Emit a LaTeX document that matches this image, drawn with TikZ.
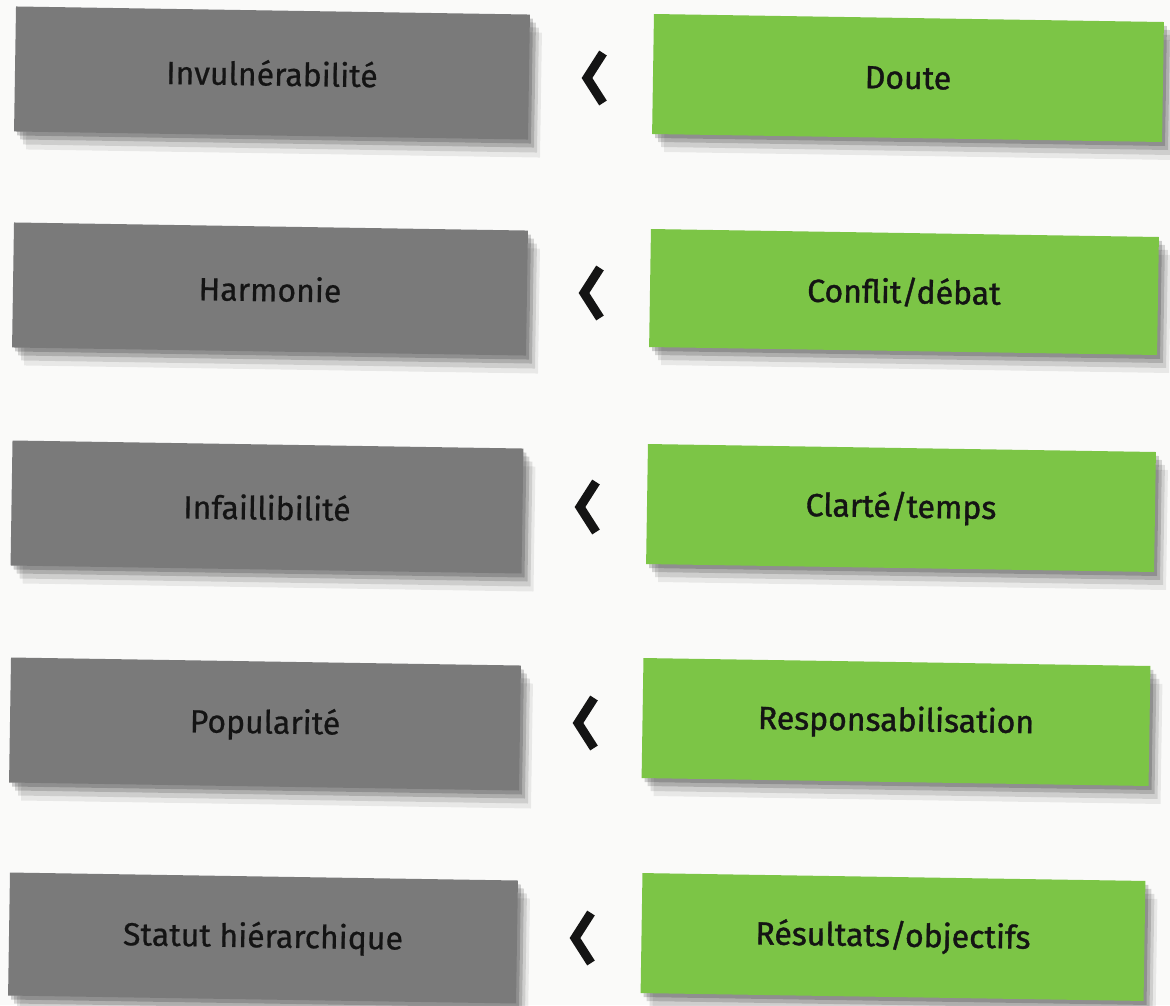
\documentclass[tikz,border=0pt]{standalone}
\usepackage{fontspec}
\setmainfont{Fira Sans}
\newfontfamily\grayfont[FakeBold=0.6]{Fira Sans}
\newfontfamily\greenfont[FakeBold=1.2]{Fira Sans}
\usetikzlibrary{shadows}
\definecolor{boxgray}{RGB}{122,122,122}
\definecolor{boxgreen}{RGB}{124,197,70}
\definecolor{paper}{RGB}{250,250,249}
\definecolor{ink}{RGB}{20,20,20}
\begin{document}
\begin{tikzpicture}[x=1pt,y=-1pt,
  softshadow/.style={
    general shadow={fill=black, opacity=.18, shadow xshift=3pt, shadow yshift=-4pt},
    general shadow={fill=black, opacity=.15, shadow xshift=6pt, shadow yshift=-8pt},
    general shadow={fill=black, opacity=.11, shadow xshift=9pt, shadow yshift=-13pt},
    general shadow={fill=black, opacity=.07, shadow xshift=12pt, shadow yshift=-18pt}},
  basebox/.style={softshadow, rectangle, inner sep=0pt, rotate=-0.9, text=ink},
  graybox/.style={basebox, fill=boxgray, font=\grayfont\fontsize{32pt}{36pt}\selectfont},
  greenbox/.style={basebox, fill=boxgreen, font=\greenfont\fontsize{32pt}{36pt}\selectfont},
  chevron/.style={draw=ink, line width=9pt, line join=miter, line cap=butt}
]
\fill[paper] (0,0) rectangle (1170,1005);
\useasboundingbox (0,0) rectangle (1170,1005);

% gray boxes
\node[graybox, minimum width=514pt, minimum height=125pt] (g1) at (272,73) {Invulnérabilité};
\node[graybox, minimum width=514pt, minimum height=125pt] (g2) at (270,289) {Harmonie};
\node[graybox, minimum width=511pt, minimum height=125pt] (g3) at (267,507) {Infaillibilité};
\node[graybox, minimum width=510pt, minimum height=125pt] (g4) at (265,724) {Popularité};
\node[graybox, minimum width=508pt, minimum height=123pt] (g5) at (263,938) {Statut hiérarchique};

% green boxes
\node[greenbox, minimum width=510pt, minimum height=120pt] (v1) at (908,78) {Doute};
\node[greenbox, minimum width=508pt, minimum height=118pt] (v2) at (904,292) {Conflit/débat};
\node[greenbox, minimum width=508pt, minimum height=120pt] (v3) at (901,508) {Clarté/temps};
\node[greenbox, minimum width=507pt, minimum height=120pt] (v4) at (896,722) {Responsabilisation};
\node[greenbox, minimum width=503pt, minimum height=120pt] (v5) at (893,937) {Résultats/objectifs};

% chevrons
\coordinate (c1) at (579,78);
\coordinate (c2) at (576,293);
\coordinate (c3) at (572,507);
\coordinate (c4) at (570,723);
\coordinate (c5) at (567,938);
\foreach \c in {c1,c2,c3,c4,c5}{
  \draw[chevron] ([shift={(24,-25)}]\c) -- ([shift={(8,0)}]\c) -- ([shift={(24,25)}]\c);
}
\end{tikzpicture}
\end{document}
